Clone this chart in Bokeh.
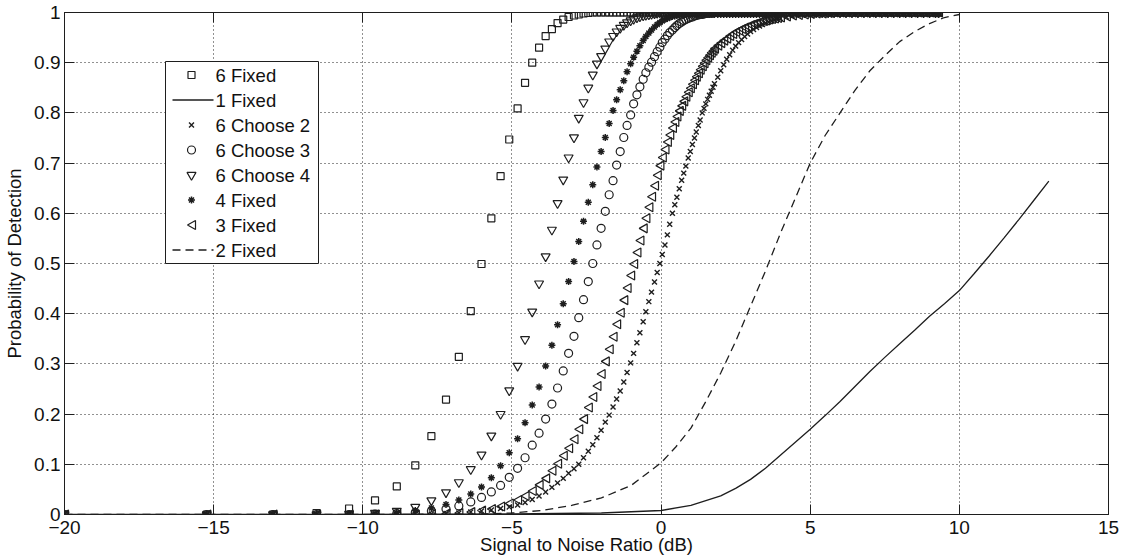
from bokeh.plotting import figure
from bokeh.models import Range1d, FixedTicker, LinearAxis, ColumnDataSource
from bokeh.core.properties import value
from bokeh.embed import file_html
from bokeh.resources import INLINE

# ---------------- data ----------------
snr_db = [
    -20.0, -15.23, -13.01, -11.55, -10.46, -9.59, -8.86, -8.24, -7.70, -7.21,
    -6.78, -6.38, -6.02, -5.69, -5.38, -5.09, -4.81, -4.56, -4.32, -4.09,
    -3.87, -3.66, -3.47, -3.28, -3.10, -2.92, -2.76, -2.60, -2.44, -2.29,
    -2.15, -2.01, -1.87, -1.74, -1.61, -1.49, -1.37, -1.25, -1.14, -1.02,
    -0.92, -0.81, -0.71, -0.60, -0.51, -0.41, -0.32, -0.22, -0.13, -0.04,
    0.04, 0.13, 0.21, 0.29, 0.38, 0.46, 0.53, 0.61, 0.69, 0.76,
    0.83, 0.91, 0.98, 1.05, 1.12, 1.18, 1.25, 1.31, 1.38, 1.44,
    1.50, 1.56, 1.62, 1.68, 1.74, 1.79, 1.90, 2.00, 2.10, 2.20,
    2.30, 2.40, 2.50, 2.60, 2.70, 2.80, 2.90, 3.00, 3.10, 3.20,
    3.30, 3.40, 3.50, 3.60, 3.70, 3.80, 3.90, 4.00, 4.20, 4.40,
    4.60, 4.80, 5.00, 5.20, 5.40, 5.60, 5.80, 6.00, 6.20, 6.40,
    6.60, 6.80, 7.00, 7.20, 7.40, 7.60, 7.80, 8.00, 8.20, 8.40,
    8.60, 8.80, 9.00, 9.20, 9.30,
]

pd_6_fixed = [
    0.0, 0.0, 0.0, 0.003, 0.012, 0.028, 0.056, 0.098, 0.156, 0.229,
    0.314, 0.405, 0.499, 0.590, 0.674, 0.747, 0.809, 0.860, 0.900, 0.930,
    0.953, 0.967, 0.979, 0.986, 0.991, 0.994, 0.996, 0.998, 0.999, 1.0,
    1.0, 1.0, 1.0, 1.0, 1.0, 1.0, 1.0, 1.0, 1.0, 1.0,
    1.0, 1.0, 1.0, 1.0, 1.0, 1.0, 1.0, 1.0, 1.0, 1.0,
    1.0, 1.0, 1.0, 1.0, 1.0, 1.0, 1.0, 1.0, 1.0, 1.0,
    1.0, 1.0, 1.0, 1.0, 1.0, 1.0, 1.0, 1.0, 1.0, 1.0,
    1.0, 1.0, 1.0, 1.0, 1.0, 1.0, 1.0, 1.0, 1.0, 1.0,
    1.0, 1.0, 1.0, 1.0, 1.0, 1.0, 1.0, 1.0, 1.0, 1.0,
    1.0, 1.0, 1.0, 1.0, 1.0, 1.0, 1.0, 1.0, 1.0, 1.0,
    1.0, 1.0, 1.0, 1.0, 1.0, 1.0, 1.0, 1.0, 1.0, 1.0,
    1.0, 1.0, 1.0, 1.0, 1.0, 1.0, 1.0, 1.0, 1.0, 1.0,
    1.0, 1.0, 1.0, 1.0, 1.0,
]

pd_6_choose_4 = [
    0.0, 0.0, 0.0, 0.0, 0.001, 0.003, 0.007, 0.015, 0.028, 0.044,
    0.064, 0.090, 0.119, 0.157, 0.200, 0.247, 0.296, 0.349, 0.404, 0.460,
    0.514, 0.567, 0.620, 0.667, 0.711, 0.751, 0.790, 0.821, 0.850, 0.876,
    0.898, 0.913, 0.928, 0.942, 0.953, 0.962, 0.969, 0.975, 0.980, 0.984,
    0.987, 0.990, 0.992, 0.994, 0.995, 0.996, 0.997, 0.998, 0.999, 1.0,
    1.0, 1.0, 1.0, 1.0, 1.0, 1.0, 1.0, 1.0, 1.0, 1.0,
    1.0, 1.0, 1.0, 1.0, 1.0, 1.0, 1.0, 1.0, 1.0, 1.0,
    1.0, 1.0, 1.0, 1.0, 1.0, 1.0, 1.0, 1.0, 1.0, 1.0,
    1.0, 1.0, 1.0, 1.0, 1.0, 1.0, 1.0, 1.0, 1.0, 1.0,
    1.0, 1.0, 1.0, 1.0, 1.0, 1.0, 1.0, 1.0, 1.0, 1.0,
    1.0, 1.0, 1.0, 1.0, 1.0, 1.0, 1.0, 1.0, 1.0, 1.0,
    1.0, 1.0, 1.0, 1.0, 1.0, 1.0, 1.0, 1.0, 1.0, 1.0,
    1.0, 1.0, 1.0, 1.0, 1.0,
]

pd_4_fixed = [
    0.0, 0.0, 0.0, 0.0, 0.001, 0.002, 0.004, 0.008, 0.013, 0.020,
    0.029, 0.041, 0.055, 0.073, 0.097, 0.123, 0.151, 0.183, 0.218, 0.254,
    0.296, 0.337, 0.378, 0.420, 0.464, 0.504, 0.544, 0.584, 0.622, 0.657,
    0.692, 0.723, 0.751, 0.779, 0.805, 0.826, 0.846, 0.864, 0.882, 0.898,
    0.911, 0.923, 0.934, 0.944, 0.952, 0.959, 0.965, 0.971, 0.976, 0.980,
    0.983, 0.986, 0.988, 0.990, 0.992, 0.993, 0.994, 0.995, 0.996, 0.997,
    0.997, 0.998, 0.998, 0.999, 0.999, 1.0, 1.0, 1.0, 1.0, 1.0,
    1.0, 1.0, 1.0, 1.0, 1.0, 1.0, 1.0, 1.0, 1.0, 1.0,
    1.0, 1.0, 1.0, 1.0, 1.0, 1.0, 1.0, 1.0, 1.0, 1.0,
    1.0, 1.0, 1.0, 1.0, 1.0, 1.0, 1.0, 1.0, 1.0, 1.0,
    1.0, 1.0, 1.0, 1.0, 1.0, 1.0, 1.0, 1.0, 1.0, 1.0,
    1.0, 1.0, 1.0, 1.0, 1.0, 1.0, 1.0, 1.0, 1.0, 1.0,
    1.0, 1.0, 1.0, 1.0, 1.0,
]

pd_6_choose_3 = [
    0.0, 0.0, 0.0, 0.0, 0.0, 0.001, 0.002, 0.004, 0.007, 0.011,
    0.017, 0.025, 0.034, 0.045, 0.058, 0.074, 0.092, 0.113, 0.138, 0.162,
    0.190, 0.220, 0.252, 0.286, 0.321, 0.355, 0.392, 0.428, 0.464, 0.500,
    0.537, 0.570, 0.604, 0.637, 0.665, 0.696, 0.723, 0.751, 0.775, 0.796,
    0.818, 0.836, 0.852, 0.867, 0.880, 0.891, 0.901, 0.912, 0.922, 0.931,
    0.940, 0.947, 0.954, 0.960, 0.965, 0.970, 0.974, 0.978, 0.981, 0.984,
    0.986, 0.988, 0.990, 0.991, 0.993, 0.994, 0.995, 0.996, 0.996, 0.997,
    0.998, 0.998, 0.999, 0.999, 1.0, 1.0, 1.0, 1.0, 1.0, 1.0,
    1.0, 1.0, 1.0, 1.0, 1.0, 1.0, 1.0, 1.0, 1.0, 1.0,
    1.0, 1.0, 1.0, 1.0, 1.0, 1.0, 1.0, 1.0, 1.0, 1.0,
    1.0, 1.0, 1.0, 1.0, 1.0, 1.0, 1.0, 1.0, 1.0, 1.0,
    1.0, 1.0, 1.0, 1.0, 1.0, 1.0, 1.0, 1.0, 1.0, 1.0,
    1.0, 1.0, 1.0, 1.0, 1.0,
]

pd_3_fixed = [
    0.0, 0.0, 0.0, 0.0, 0.0, 0.0, 0.0, 0.0, 0.001, 0.002,
    0.003, 0.005, 0.008, 0.011, 0.016, 0.022, 0.029, 0.037, 0.047, 0.059,
    0.072, 0.087, 0.101, 0.117, 0.132, 0.150, 0.170, 0.190, 0.213, 0.234,
    0.256, 0.280, 0.305, 0.329, 0.354, 0.379, 0.402, 0.427, 0.451, 0.476,
    0.499, 0.522, 0.546, 0.570, 0.590, 0.612, 0.633, 0.655, 0.676, 0.695,
    0.711, 0.727, 0.742, 0.756, 0.770, 0.782, 0.793, 0.804, 0.814, 0.823,
    0.832, 0.841, 0.849, 0.857, 0.865, 0.872, 0.879, 0.886, 0.893, 0.899,
    0.905, 0.910, 0.915, 0.920, 0.924, 0.928, 0.934, 0.939, 0.944, 0.948,
    0.953, 0.957, 0.961, 0.964, 0.967, 0.970, 0.972, 0.975, 0.977, 0.979,
    0.981, 0.983, 0.984, 0.986, 0.987, 0.988, 0.989, 0.990, 0.992, 0.994,
    0.995, 0.996, 0.997, 0.998, 0.998, 0.999, 1.0, 1.0, 1.0, 1.0,
    1.0, 1.0, 1.0, 1.0, 1.0, 1.0, 1.0, 1.0, 1.0, 1.0,
    1.0, 1.0, 1.0, 1.0, 1.0,
]

pd_6_choose_2 = [
    0.0, 0.0, 0.0, 0.0, 0.0, 0.0, 0.0, 0.001, 0.001, 0.002,
    0.003, 0.005, 0.007, 0.009, 0.012, 0.015, 0.019, 0.024, 0.030, 0.037,
    0.045, 0.054, 0.063, 0.072, 0.082, 0.091, 0.100, 0.113, 0.126, 0.139,
    0.153, 0.168, 0.184, 0.198, 0.214, 0.230, 0.246, 0.264, 0.283, 0.302,
    0.321, 0.342, 0.362, 0.384, 0.404, 0.424, 0.443, 0.463, 0.482, 0.500,
    0.518, 0.537, 0.557, 0.578, 0.600, 0.617, 0.632, 0.649, 0.666, 0.680,
    0.694, 0.710, 0.723, 0.737, 0.750, 0.762, 0.775, 0.786, 0.800, 0.809,
    0.818, 0.827, 0.835, 0.843, 0.851, 0.858, 0.871, 0.884, 0.896, 0.907,
    0.916, 0.925, 0.933, 0.940, 0.946, 0.952, 0.957, 0.962, 0.966, 0.970,
    0.973, 0.976, 0.979, 0.981, 0.983, 0.985, 0.987, 0.988, 0.991, 0.993,
    0.995, 0.996, 0.997, 0.998, 0.998, 0.999, 0.999, 1.0, 1.0, 1.0,
    1.0, 1.0, 1.0, 1.0, 1.0, 1.0, 1.0, 1.0, 1.0, 1.0,
    1.0, 1.0, 1.0, 1.0, 1.0,
]

snr_1_fixed = [-20.0, -10.0, -5.0, -2.0, 0.0, 1.0, 2.0, 2.5, 3.0, 3.5, 4.0, 4.5,
               5.0, 5.5, 6.0, 6.5, 7.0, 7.5, 8.0, 8.5, 9.0, 9.5, 10.0, 10.5,
               11.0, 11.5, 12.0, 12.5, 13.0]
pd_1_fixed = [0.0, 0.0, 0.001, 0.003, 0.008, 0.018, 0.037, 0.052, 0.070, 0.092,
              0.118, 0.144, 0.170, 0.197, 0.225, 0.255, 0.285, 0.313, 0.340,
              0.367, 0.395, 0.420, 0.446, 0.480, 0.515, 0.551, 0.588, 0.626,
              0.664]

snr_2_fixed = [-20.0, -10.0, -6.0, -5.0, -4.0, -3.0, -2.0, -1.0, 0.0, 0.5, 1.0,
               1.5, 2.0, 2.5, 3.0, 3.5, 4.0, 4.5, 5.0, 5.5, 6.0, 6.5, 7.0, 7.5,
               8.0, 8.5, 9.0, 9.5, 10.0]
pd_2_fixed = [0.0, 0.0, 0.001, 0.003, 0.008, 0.018, 0.033, 0.058, 0.103, 0.135,
              0.172, 0.225, 0.282, 0.345, 0.415, 0.485, 0.560, 0.630, 0.700,
              0.755, 0.800, 0.845, 0.884, 0.914, 0.942, 0.962, 0.978, 0.990,
              0.996]

legend_labels = ["6 Fixed", "1 Fixed", "6 Choose 2", "6 Choose 3",
                 "6 Choose 4", "4 Fixed", "3 Fixed", "2 Fixed"]

x_ticks = [-20, -15, -10, -5, 0, 5, 10, 15]
x_tick_labels = ["\u221220", "\u221215", "\u221210", "\u22125", "0", "5", "10", "15"]
y_ticks = [0, 0.1, 0.2, 0.3, 0.4, 0.5, 0.6, 0.7, 0.8, 0.9, 1]
y_tick_labels = ["0", "0.1", "0.2", "0.3", "0.4", "0.5", "0.6", "0.7", "0.8", "0.9", "1"]

x_label = "Signal to Noise Ratio (dB)"
y_label = "Probability of Detection"

# ---------------- layout / styling ----------------
FONT = "Liberation Sans"
INK = "#1e1e1e"
TEXT = "#111111"

W, H = 1122, 560
B_LEFT, B_RIGHT, B_TOP, B_BOTTOM = 64, 14, 12, 46
X0, X1, Y0, Y1 = -20, 15, 0, 1
FRAME_W = W - B_LEFT - B_RIGHT
FRAME_H = H - B_TOP - B_BOTTOM
DX_PER_PX = (X1 - X0) / FRAME_W
DY_PER_PX = (Y1 - Y0) / FRAME_H


def px(px_x, px_y):
    """frame-relative pixel offset (from bottom-left) -> data coords"""
    return X0 + px_x * DX_PER_PX, Y0 + px_y * DY_PER_PX


# marker styles
STY_SQ = dict(marker="square", size=7, line_color=INK, fill_color=None, line_width=1.2)
STY_X = dict(marker="x", size=7, line_color=INK, line_width=1.4)
STY_CI = dict(marker="circle", size=8, line_color=INK, fill_color=None, line_width=1.2)
STY_IT = dict(marker="inverted_triangle", size=9, line_color=INK, fill_color=None,
              line_width=1.2)
STY_AS = dict(marker="asterisk", size=7, line_color=INK, line_width=1.5)
STY_SOLID = dict(line_color=INK, line_width=1.3)
STY_DASH = dict(line_color=INK, line_width=1.3, line_dash="8 5")
STY_TRI = dict(fill_color=None, line_color=INK, line_width=1.2)
TRI_HALF_W, TRI_HALF_H = 4.0, 4.5   # px


def left_triangle(cx, cy):
    dx = TRI_HALF_W * DX_PER_PX
    dy = TRI_HALF_H * DY_PER_PX
    return [cx - dx, cx + dx, cx + dx], [cy, cy + dy, cy - dy]


src = ColumnDataSource(dict(x=snr_db, f6=pd_6_fixed, c2=pd_6_choose_2,
                            c3=pd_6_choose_3, c4=pd_6_choose_4,
                            f4=pd_4_fixed))

p = figure(width=W, height=H, x_range=Range1d(X0, X1), y_range=Range1d(Y0, Y1),
           output_backend="svg", toolbar_location=None,
           min_border_left=B_LEFT, min_border_right=B_RIGHT, min_border_top=B_TOP,
           min_border_bottom=B_BOTTOM)
p.background_fill_color = "white"
p.border_fill_color = "white"
p.outline_line_color = INK

top_axis = LinearAxis()
right_axis = LinearAxis()
p.add_layout(top_axis, "above")
p.add_layout(right_axis, "right")

for ax in p.xaxis:
    ax.ticker = FixedTicker(ticks=x_ticks)
for ax in p.yaxis:
    ax.ticker = FixedTicker(ticks=y_ticks)

for ax in list(p.xaxis) + list(p.yaxis):
    ax.major_tick_in = 10
    ax.major_tick_out = 0
    ax.minor_tick_line_color = None
    ax.axis_line_color = INK
    ax.major_tick_line_color = INK
    ax.major_label_text_font = FONT
    ax.major_label_text_font_size = "19px"
    ax.major_label_text_color = TEXT
    ax.axis_label_text_font = FONT
    ax.axis_label_text_font_size = "18.5px"
    ax.axis_label_text_font_style = "normal"
    ax.axis_label_text_color = TEXT

p.xaxis[0].major_label_overrides = {t: s for t, s in zip(x_ticks, x_tick_labels)}
p.yaxis[0].major_label_overrides = {t: s for t, s in zip(y_ticks, y_tick_labels)}
top_axis.major_label_overrides = {t: "" for t in x_ticks}
right_axis.major_label_overrides = {t: "" for t in y_ticks}
for ax in (top_axis, right_axis):
    ax.major_label_standoff = 0

bottom_axis = [a for a in p.below if isinstance(a, LinearAxis)][0]
left_axis = [a for a in p.left if isinstance(a, LinearAxis)][0]
bottom_axis.axis_label = x_label
left_axis.axis_label = y_label
bottom_axis.major_label_standoff = 6
bottom_axis.axis_label_standoff = -3
left_axis.major_label_standoff = 4
left_axis.axis_label_standoff = 6

p.xgrid.ticker = FixedTicker(ticks=x_ticks)
p.ygrid.ticker = FixedTicker(ticks=y_ticks)
for g in (p.xgrid, p.ygrid):
    g.grid_line_color = "#222222"
    g.grid_line_dash = "1 3"
    g.grid_line_width = 1

# ---------------- data glyphs ----------------
p.scatter("x", "f6", source=src, **STY_SQ)
p.line(snr_1_fixed, pd_1_fixed, **STY_SOLID)
p.scatter("x", "c2", source=src, **STY_X)
p.scatter("x", "c3", source=src, **STY_CI)
p.scatter("x", "c4", source=src, **STY_IT)
p.scatter("x", "f4", source=src, **STY_AS)
tri = [left_triangle(x, y) for x, y in zip(snr_db, pd_3_fixed)]
p.patches([t[0] for t in tri], [t[1] for t in tri], **STY_TRI)
p.line(snr_2_fixed, pd_2_fixed, **STY_DASH)

# ---------------- legend (drawn as glyphs, on top of the data) ----------------
LEG_X, LEG_Y = 101, 251          # px from frame bottom-left (box bottom-left)
LEG_W, ROW_H, LEG_PAD = 153, 25, 1
ICON_CX = 26                     # px from box left
LINE_X0, LINE_X1 = 7, 48         # px from box left
TEXT_X = 50                      # px from box left
n_rows = len(legend_labels)
LEG_H = n_rows * ROW_H + 2 * LEG_PAD

bx0, by0 = px(LEG_X, LEG_Y)
bx1, by1 = px(LEG_X + LEG_W, LEG_Y + LEG_H)
p.quad(left=[bx0], right=[bx1], bottom=[by0], top=[by1],
       fill_color="white", line_color=INK, line_width=1)

row_px_y = [LEG_Y + LEG_H - LEG_PAD - (i + 0.5) * ROW_H for i in range(n_rows)]
row_y = [px(0, ry)[1] for ry in row_px_y]
icon_x = px(LEG_X + ICON_CX, 0)[0]
lx0 = px(LEG_X + LINE_X0, 0)[0]
lx1 = px(LEG_X + LINE_X1, 0)[0]

p.scatter([icon_x], [row_y[0]], **STY_SQ)
p.segment([lx0], [row_y[1]], [lx1], [row_y[1]], **STY_SOLID)
p.scatter([icon_x], [row_y[2]], **STY_X)
p.scatter([icon_x], [row_y[3]], **STY_CI)
p.scatter([icon_x], [row_y[4]], **STY_IT)
p.scatter([icon_x], [row_y[5]], **STY_AS)
ix, iy = left_triangle(icon_x, row_y[6])
p.patches([ix], [iy], **STY_TRI)
p.segment([lx0], [row_y[7]], [lx1], [row_y[7]], **STY_DASH)

text_x = px(LEG_X + TEXT_X, 0)[0]
p.text(x=[text_x] * n_rows, y=row_y, text=legend_labels,
       text_font=value(FONT), text_font_size="18.5px", text_color=TEXT,
       text_align="left", text_baseline="middle")

open("out.html", "w").write(file_html(p, INLINE))
